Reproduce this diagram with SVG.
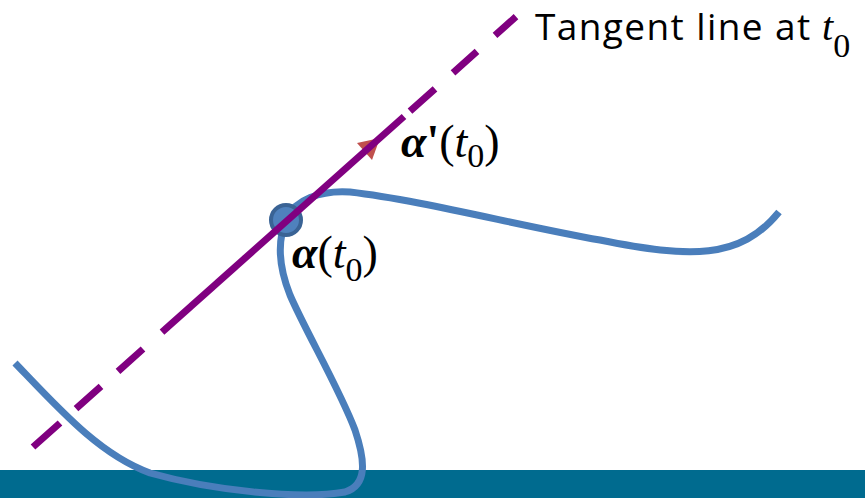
<svg xmlns="http://www.w3.org/2000/svg" width="865" height="498" viewBox="0 0 865 498">
<style>
.band{fill:#006B8F}
.curve{fill:none;stroke:#4A7EBB;stroke-width:7;stroke-linecap:butt}
.pt{fill:#4F81BD;stroke:#3A6395;stroke-width:4}
.tan{fill:none;stroke:#800080;stroke-width:7;stroke-linecap:butt}
.vec{fill:none;stroke:#C0504D;stroke-width:4}
.head{fill:#C0504D}
.sans{font-family:"Open Sans","Liberation Sans",sans-serif;font-size:37px;letter-spacing:1.4px;fill:#000}
.math{font-family:"Liberation Serif","Times New Roman",serif;font-size:46px;fill:#000}
.tmath{font-family:"Liberation Serif","Times New Roman",serif;font-size:40px;fill:#000}
.bi{font-weight:bold;font-style:italic}
.b{font-weight:bold}
.i{font-style:italic}
.sub{font-size:34px;font-style:normal}
</style>
<rect class="band" x="0" y="470" width="865" height="28"/>
<g id="curve">
<path class="curve" d="M 779 212 C 740 260, 690 258, 600 240 C 520 226, 420 200, 350 192 C 320 190, 295 200, 287 218 C 277 240, 278 265, 290 295 C 305 330, 340 390, 355 430 C 365 460, 368 485, 345 492 C 300 500, 210 490, 150 473 C 100 455, 60 410, 15 363"/>
</g>
<g id="point">
<circle class="pt" cx="286" cy="220" r="15"/>
</g>
<g id="connectors">
<g id="velocity-vector">
<path class="vec" d="M 287 220 L 368 148"/>
<polygon class="head" points="357,143 372,160 380,138"/>
</g>
<g id="tangent-line">
<path class="tan" d="M 33 447 L 60 423 M 76 408.7 L 101 386.4 M 118 371.3 L 143 349 M 410 111.1 L 435 88.9 M 453 72.8 L 477 51.4 M 495 35.4 L 516 16.7"/>
<path class="tan" d="M 162 332.1 L 404 116.5"/>
</g>
</g>
<g id="label-tangent">
<text class="sans" x="535" y="40">Tangent line at</text>
<text class="tmath" x="822" y="40"><tspan class="i">t</tspan><tspan class="sub" dy="17">0</tspan></text>
</g>
<g id="label-alpha-prime">
<text class="math" x="401" y="157"><tspan class="bi">α</tspan><tspan class="b">'</tspan>(<tspan class="i">t</tspan><tspan class="sub" dy="10">0</tspan><tspan dy="-10">)</tspan></text>
</g>
<g id="label-alpha">
<text class="math" x="292" y="268"><tspan class="bi">α</tspan>(<tspan class="i">t</tspan><tspan class="sub" dy="13">0</tspan><tspan dy="-13">)</tspan></text>
</g>
</svg>
